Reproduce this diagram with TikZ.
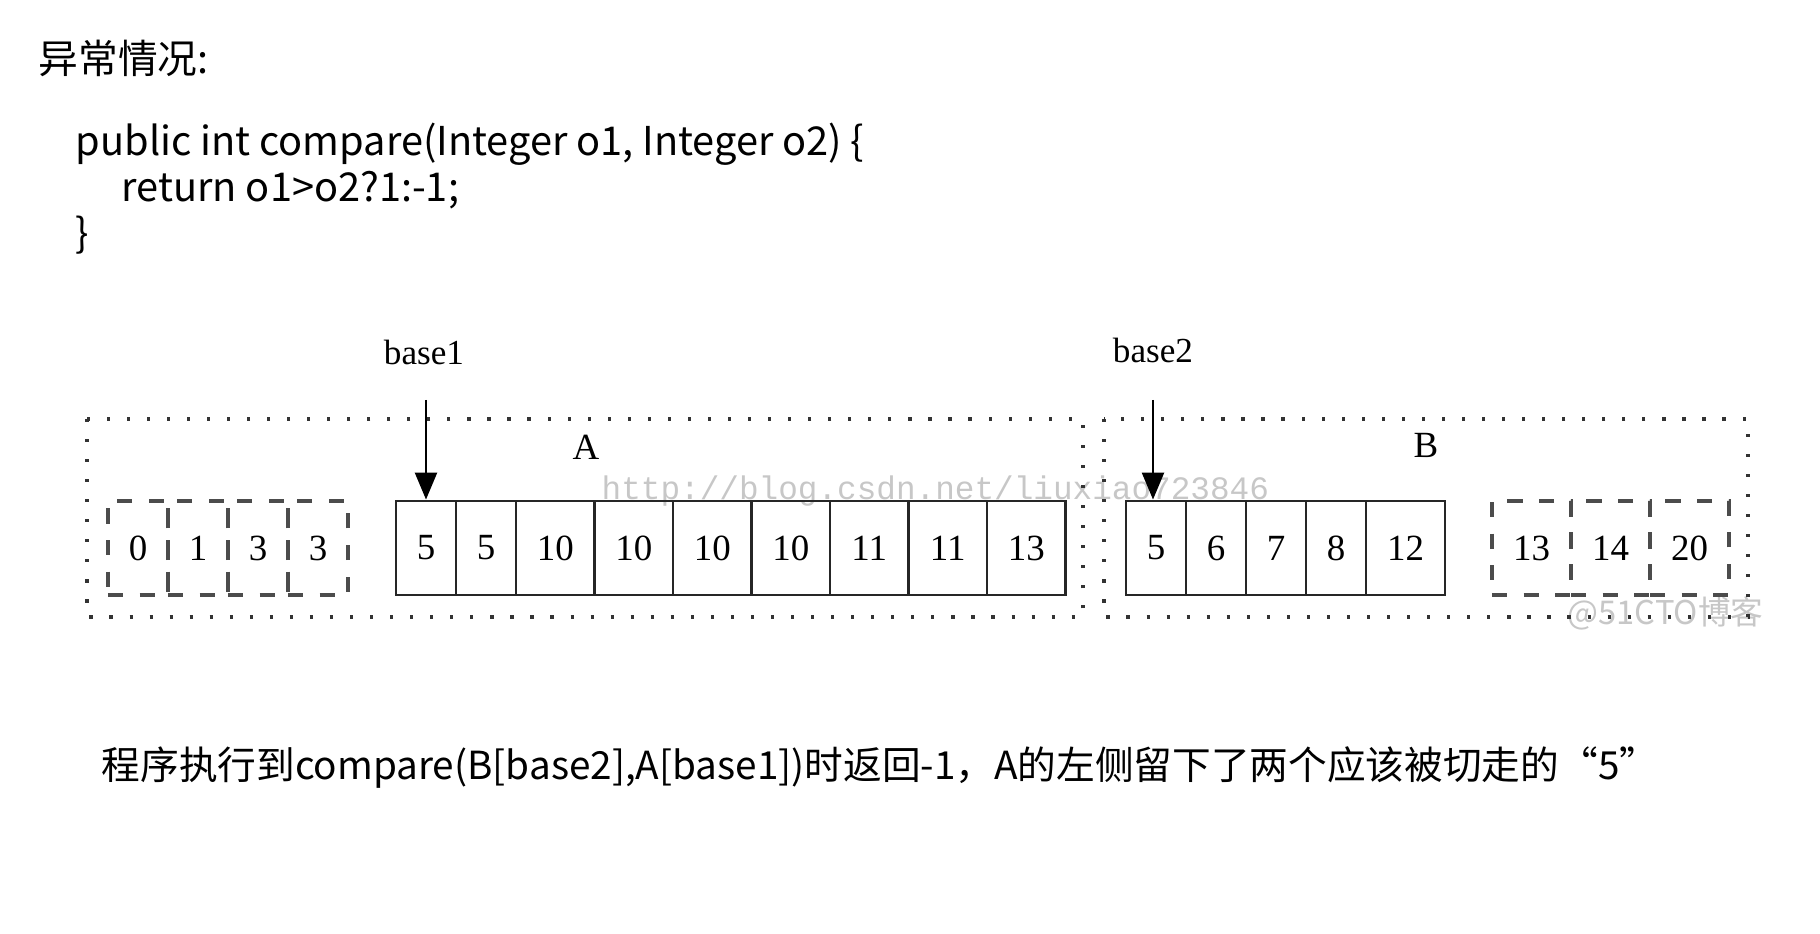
\documentclass[tikz,border=0pt]{standalone}
\usepackage{fontspec}
\setmainfont{Liberation Serif}
\newfontfamily\cjk{Noto Sans CJK SC}
\newfontfamily\wmfont{Liberation Mono}
\usetikzlibrary{arrows.meta}

\begin{document}
\begin{tikzpicture}[x=0.01cm,y=-0.01cm,
  cell/.style={draw=black!85,line width=0.8pt,minimum height=0.94cm,inner sep=0pt,font=\fontsize{10.5}{12}\selectfont},
  outcell/.style={cell,draw=black!70,line width=0.9pt,dash pattern=on 4.3pt off 4.7pt},
  runbox/.style={draw=black!80,line width=0.9pt,dash pattern=on 0.9pt off 4.8pt},
  code/.style={font=\cjk\fontsize{11.3}{13}\selectfont,inner sep=0pt,anchor=base west},
  ptr/.style={-{Triangle[width=0.22cm,length=0.27cm]},line width=0.7pt},
  wm/.style={text=black!22,inner sep=0pt}]
\useasboundingbox (0,0) rectangle (1820,934);
% text above
\node[code] (title) at (38,74) {异常情况:};
\node[code] (line1) at (75,156) {public int compare(Integer o1, Integer o2) \{};
\node[code] (line2) at (121,202) {return o1>o2?1:-1;};
\node[code] (line3) at (75,248) {\}};
% watermarks
\node[wm,anchor=base west,font=\wmfont\fontsize{9.3}{11}\selectfont] (wm1) at (601,500) {http://blog.csdn.net/liuxiao723846};
\node[wm,anchor=west,font=\cjk\fontsize{9.3}{11}\selectfont] (wm2) at (1567,613) {@51CTO博客};
% run A
\draw[runbox] (87,419) rectangle (1083,617);
\node[inner sep=0pt,anchor=base] (labA) at (586,460) {\fontsize{10.5}{12}\selectfont A};
\node[outcell,minimum width=0.6cm] (a01) at (138,548) {0};
\node[outcell,minimum width=0.6cm] (a02) at (198,548) {1};
\node[outcell,minimum width=0.6cm] (a03) at (258,548) {3};
\node[outcell,minimum width=0.6cm] (a04) at (318,548) {3};
\node[cell,minimum width=0.6cm] (a1) at (426,548) {5};
\node[cell,minimum width=0.6cm] (a2) at (486,548) {5};
\node[cell,minimum width=0.785cm] (a3) at (555.25,548) {10};
\node[cell,minimum width=0.785cm] (a4) at (633.75,548) {10};
\node[cell,minimum width=0.785cm] (a5) at (712.25,548) {10};
\node[cell,minimum width=0.785cm] (a6) at (790.75,548) {10};
\node[cell,minimum width=0.785cm] (a7) at (869.25,548) {11};
\node[cell,minimum width=0.785cm] (a8) at (947.75,548) {11};
\node[cell,minimum width=0.785cm] (a9) at (1026.25,548) {13};
% run B
\draw[runbox] (1104,419) rectangle (1748,617);
\node[inner sep=0pt,anchor=base] (labB) at (1426,458) {\fontsize{10.5}{12}\selectfont B};
\node[cell,minimum width=0.6cm] (b1) at (1156,548) {5};
\node[cell,minimum width=0.6cm] (b2) at (1216,548) {6};
\node[cell,minimum width=0.6cm] (b3) at (1276,548) {7};
\node[cell,minimum width=0.6cm] (b4) at (1336,548) {8};
\node[cell,minimum width=0.79cm] (b5) at (1405.5,548) {12};
\node[outcell,minimum width=0.79cm] (b01) at (1531.5,548) {13};
\node[outcell,minimum width=0.79cm] (b02) at (1610.5,548) {14};
\node[outcell,minimum width=0.79cm] (b03) at (1689.5,548) {20};
% pointers
\node[inner sep=0pt,anchor=base] (base1) at (424,365) {\fontsize{10}{12}\selectfont base1};
\node[inner sep=0pt,anchor=base] (base2) at (1153,363) {\fontsize{10}{12}\selectfont base2};
\coordinate (p1) at (426,400);
\coordinate (p2) at (1153,400);
\draw[ptr] (p1) -- (a1.north);
\draw[ptr] (p2) -- (b1.north -| p2);
% text below
\node[code,font=\cjk\fontsize{11}{13}\selectfont] (note) at (101,780) {程序执行到compare(B[base2],A[base1])时返回-1，A的左侧留下了两个应该被切走的“5”};
\end{tikzpicture}
\end{document}
